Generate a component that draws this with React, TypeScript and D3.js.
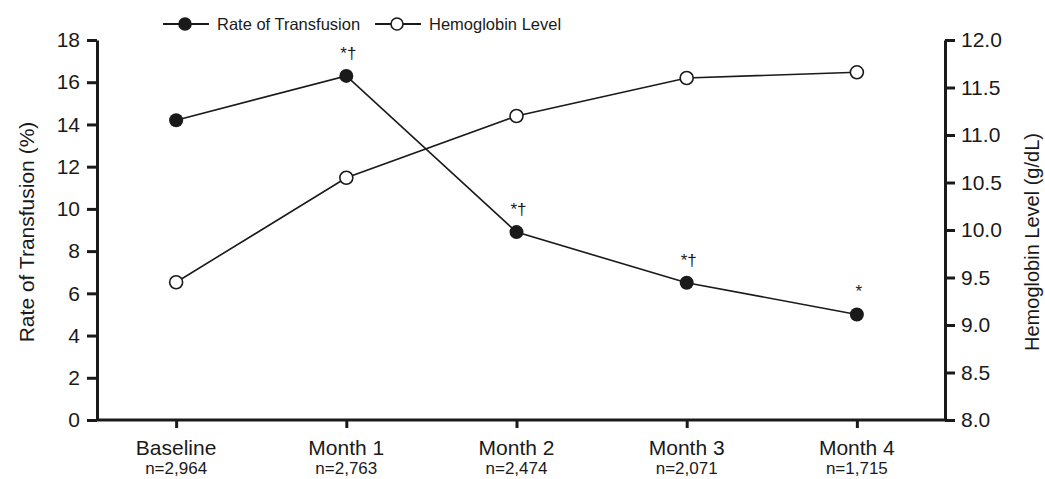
import React, { useRef, useEffect } from "react";
import * as d3 from "d3";

const categories = ["Baseline", "Month 1", "Month 2", "Month 3", "Month 4"];
const sampleSizes = ["n=2,964", "n=2,763", "n=2,474", "n=2,071", "n=1,715"];
const transfusionRate = [14.2, 16.3, 8.9, 6.5, 5.0];
const hemoglobin = [9.45, 10.55, 11.2, 11.6, 11.66];
const significance = ["", "*†", "*†", "*†", "*"];
const leftTicks = [0, 2, 4, 6, 8, 10, 12, 14, 16, 18];
const rightTicks = [8.0, 8.5, 9.0, 9.5, 10.0, 10.5, 11.0, 11.5, 12.0];

const width = 1045;
const height = 479;
const font = "'Liberation Sans', Arial, Helvetica, sans-serif";
const ink = "#1a1a1a";

const App = () => {
  const ref = useRef<SVGSVGElement>(null);

  useEffect(() => {
    const svg = d3.select(ref.current);
    svg.selectAll("*").remove();

    const margin = { top: 40, right: 100, bottom: 59, left: 97 };
    const innerW = width - margin.left - margin.right;
    const innerH = height - margin.top - margin.bottom;

    // categories sit a little left of centre in the original
    const x = d3.scalePoint<string>().domain(categories).range([0, innerW - 9]).padding(0.465);
    const yL = d3.scaleLinear().domain([0, 18]).range([innerH, 0]);
    const yR = d3.scaleLinear().domain([8, 12]).range([innerH, 0]);

    const g = svg.append("g").attr("transform", `translate(${margin.left},${margin.top})`);

    // left axis
    const la = g
      .append("g")
      .call(d3.axisLeft(yL).tickValues(leftTicks).tickSize(10).tickSizeOuter(0).tickPadding(7));
    la.select(".domain").attr("stroke", ink).attr("stroke-width", 3);
    la.selectAll(".tick line").attr("stroke", ink).attr("stroke-width", 3);
    la.selectAll(".tick text").attr("font-family", font).attr("font-size", 21).attr("fill", ink);

    // right axis
    const ra = g
      .append("g")
      .attr("transform", `translate(${innerW},0)`)
      .call(
        d3.axisRight(yR).tickValues(rightTicks).tickFormat(d3.format(".1f")).tickSize(10).tickSizeOuter(0).tickPadding(6)
      );
    ra.select(".domain").attr("stroke", ink).attr("stroke-width", 3);
    ra.selectAll(".tick line").attr("stroke", ink).attr("stroke-width", 3);
    ra.selectAll(".tick text").attr("font-family", font).attr("font-size", 21).attr("fill", ink);

    // bottom axis
    const ba = g
      .append("g")
      .attr("transform", `translate(0,${innerH})`)
      .call(d3.axisBottom(x).tickSize(8).tickSizeOuter(0).tickFormat(() => ""));
    ba.select(".domain").attr("stroke", ink).attr("stroke-width", 3).attr("d", `M0,0H${innerW}`);
    ba.selectAll(".tick line").attr("stroke", ink).attr("stroke-width", 3);

    const lbl = g.append("g").attr("font-family", font).attr("fill", ink).attr("text-anchor", "middle");
    lbl
      .selectAll(".cat")
      .data(categories)
      .enter()
      .append("text")
      .attr("x", (d) => x(d)!)
      .attr("y", innerH + 35)
      .attr("font-size", 21)
      .text((d) => d);
    lbl
      .selectAll(".n")
      .data(categories)
      .enter()
      .append("text")
      .attr("x", (d) => x(d)!)
      .attr("y", innerH + 54)
      .attr("font-size", 17)
      .text((d, i) => sampleSizes[i]);

    // axis titles
    svg
      .append("text")
      .attr("transform", `translate(34,${margin.top + innerH / 2 + 2}) rotate(-90)`)
      .attr("text-anchor", "middle")
      .attr("font-family", font)
      .attr("font-size", 21)
      .attr("fill", ink)
      .text("Rate of Transfusion (%)");
    svg
      .append("text")
      .attr("transform", `translate(1039,${margin.top + innerH / 2 + 12}) rotate(-90)`)
      .attr("text-anchor", "middle")
      .attr("font-family", font)
      .attr("font-size", 20)
      .attr("fill", ink)
      .text("Hemoglobin Level (g/dL)");

    // lines
    const lineL = d3
      .line<number>()
      .x((d, i) => x(categories[i])!)
      .y((d) => yL(d));
    const lineR = d3
      .line<number>()
      .x((d, i) => x(categories[i])!)
      .y((d) => yR(d));

    g.append("path").attr("d", lineR(hemoglobin)).attr("fill", "none").attr("stroke", ink).attr("stroke-width", 1.6);
    g.append("path").attr("d", lineL(transfusionRate)).attr("fill", "none").attr("stroke", ink).attr("stroke-width", 1.6);

    g.selectAll(".hb")
      .data(hemoglobin)
      .enter()
      .append("circle")
      .attr("cx", (d, i) => x(categories[i])!)
      .attr("cy", (d) => yR(d))
      .attr("r", 6.5)
      .attr("fill", "#fff")
      .attr("stroke", ink)
      .attr("stroke-width", 1.6);

    g.selectAll(".tr")
      .data(transfusionRate)
      .enter()
      .append("circle")
      .attr("cx", (d, i) => x(categories[i])!)
      .attr("cy", (d) => yL(d))
      .attr("r", 7)
      .attr("fill", ink);

    g.selectAll(".sig")
      .data(transfusionRate)
      .enter()
      .append("text")
      .attr("x", (d, i) => x(categories[i])! + 2)
      .attr("y", (d) => yL(d) - 17)
      .attr("text-anchor", "middle")
      .attr("font-family", font)
      .attr("font-size", 17)
      .attr("fill", ink)
      .text((d, i) => significance[i]);

    // legend
    const leg = svg.append("g").attr("font-family", font).attr("font-size", 16.5).attr("fill", ink);
    const items = [
      { label: "Rate of Transfusion", x0: 163, filled: true },
      { label: "Hemoglobin Level", x0: 375, filled: false },
    ];
    items.forEach((it) => {
      leg.append("line").attr("x1", it.x0).attr("x2", it.x0 + 46).attr("y1", 24).attr("y2", 24).attr("stroke", ink).attr("stroke-width", 1.8);
      leg
        .append("circle")
        .attr("cx", it.x0 + 22)
        .attr("cy", 24)
        .attr("r", 6)
        .attr("fill", it.filled ? ink : "#fff")
        .attr("stroke", ink)
        .attr("stroke-width", 1.6);
      leg.append("text").attr("x", it.x0 + 54).attr("y", 30).text(it.label);
    });
  }, []);

  return (
    <svg
      ref={ref}
      width={width}
      height={height}
      style={{ position: "absolute", left: 0, top: 0, background: "#fff" }}
    ></svg>
  );
};

export default App;
